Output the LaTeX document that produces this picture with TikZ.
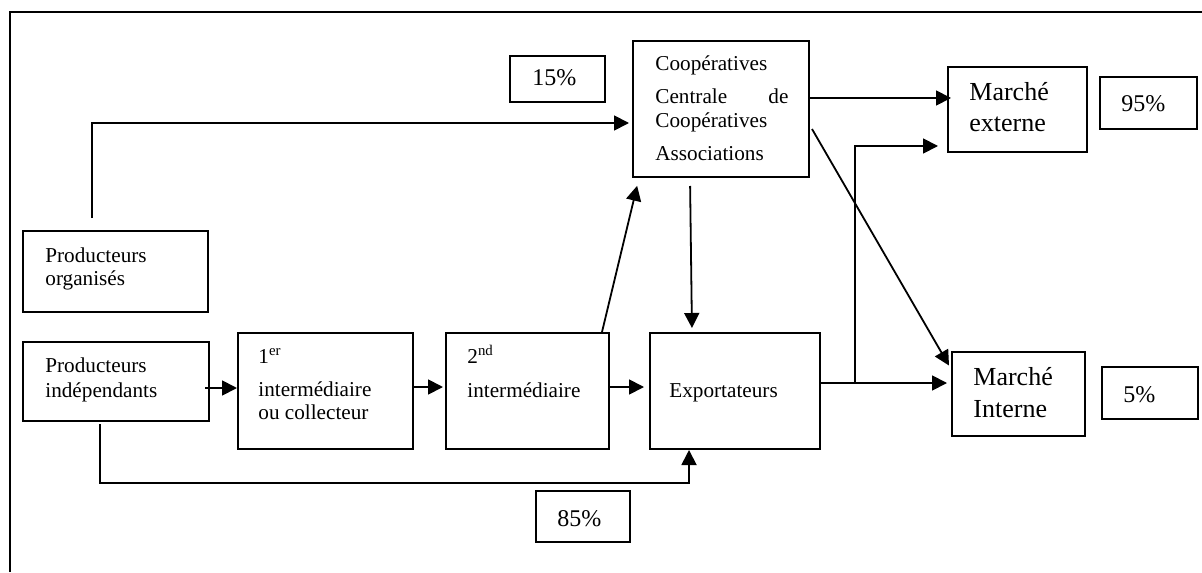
\documentclass[tikz,border=0pt]{standalone}
\usepackage{fontspec}
\setmainfont{Liberation Serif}
\usetikzlibrary{arrows.meta}
\begin{document}
\begin{tikzpicture}[x=0.5pt,y=-0.5pt,
  box/.style={draw, line width=1pt, inner sep=0pt},
  txt/.style={anchor=base west, inner sep=0pt, font=\fontsize{10.6}{12}\selectfont},
  big/.style={anchor=base west, inner sep=0pt, font=\fontsize{13}{15}\selectfont},
  pct/.style={anchor=base west, inner sep=0pt, font=\fontsize{12}{14}\selectfont},
  arr/.style={line width=0.9pt, -{Triangle[length=7.5pt,width=7.5pt]}}]
\useasboundingbox (0,0) rectangle (1202,572);
% frame
\coordinate (fa) at (10,572); \coordinate (fb) at (10,12); \coordinate (fc) at (1202,12);
\draw[line width=1.1pt] (fa) -- (fb) -- (fc);
% boxes
\node[box, minimum width=92.5pt, minimum height=40.5pt] (po) at (115.5,271.5) {};
\node[box, minimum width=93pt, minimum height=39.5pt] (pi) at (116,381.5) {};
\node[box, minimum width=87.5pt, minimum height=58pt] (i1) at (325.5,391) {};
\node[box, minimum width=81.5pt, minimum height=58pt] (i2) at (527.5,391) {};
\node[box, minimum width=85pt, minimum height=58pt] (ex) at (735,391) {};
\node[box, minimum width=88pt, minimum height=68pt] (coop) at (721,109) {};
\node[box, minimum width=69.5pt, minimum height=42.5pt] (me) at (1017.5,109.5) {};
\node[box, minimum width=66.5pt, minimum height=42pt] (mi) at (1018.5,394) {};
\node[box, minimum width=47.5pt, minimum height=23pt] (p15) at (557.5,79) {};
\node[box, minimum width=48.5pt, minimum height=26pt] (p95) at (1148.5,103) {};
\node[box, minimum width=48pt, minimum height=26pt] (p5) at (1150,393) {};
\node[box, minimum width=47pt, minimum height=25.5pt] (p85) at (583,516.5) {};
% texts
\node[txt] (po1) at (45,262) {Producteurs};
\node[txt] (po2) at (45,285) {organisés};
\node[txt] (pi1) at (45,372) {Producteurs};
\node[txt] (pi2) at (45,397) {indépendants};
\node[txt] (a1) at (258,363) {1\textsuperscript{er}};
\node[txt] (a2) at (258,396) {intermédiaire};
\node[txt] (a3) at (258,419) {ou collecteur};
\node[txt] (b1) at (467,363) {2\textsuperscript{nd}};
\node[txt] (b2) at (467,397) {intermédiaire};
\node[txt] (e1) at (669,397) {Exportateurs};
\node[txt] (c1) at (655,71) {Coopératives};
\node[txt] (c2) at (655,104) {\makebox[66.5pt][l]{Centrale\hfill de}};
\node[txt] (c3) at (655,128) {Coopératives};
\node[txt] (c4) at (655,161) {Associations};
\node[big] (m1) at (969,101) {Marché};
\node[big] (m2) at (969,132) {externe};
\node[big] (n1) at (973,385) {Marché};
\node[big] (n2) at (973,417) {Interne};
\node[pct] (t15) at (532,86) {15\%};
\node[pct] (t95) at (1121,112) {95\%};
\node[pct] (t5) at (1123,402) {5\%};
\node[pct] (t85) at (557,526) {85\%};
% connectors
\coordinate (poS) at (92,218);
\draw[arr] (poS) |- ([xshift=-1.5pt]coop.west |- 0,123);
\draw[arr] ([xshift=-2.5pt]pi.east |- 0,388) -- (i1.west |- 0,388);
\draw[arr] (i1.east |- 0,387) -- ([xshift=-1pt]i2.west |- 0,387);
\draw[arr] (i2.east |- 0,387) -- ([xshift=-2.5pt]ex.west |- 0,387);
\draw[arr] ([xshift=-1pt]ex.east |- 0,383) -- ([xshift=-2pt]mi.west |- 0,383);
\coordinate (br) at (855,383);
\draw[arr] (br) |- ([xshift=-4.5pt]me.west |- 0,146);
\draw[arr] (coop.east |- 0,98) -- ([xshift=2pt]me.west |- 0,98);
\coordinate (dg) at (812,129);
\draw[arr, shorten >=2pt] (dg) -- (mi.west |- 0,369);
\draw[arr, shorten >=4pt] (i2.north -| 602,0) -- (coop.south -| 639,0);
\draw[arr, shorten <=4pt, shorten >=2pt] (coop.south -| 690,0) -- (ex.north -| 692,0);
\coordinate (piB) at (100,424);
\draw[arr] (piB) |- (689,483) -- (ex.south -| 689,0);
\end{tikzpicture}
\end{document}
